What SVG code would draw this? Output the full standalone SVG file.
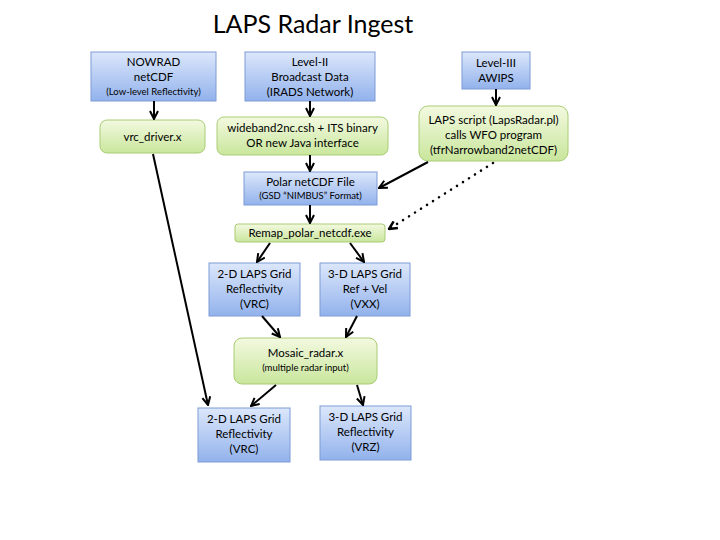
<svg xmlns="http://www.w3.org/2000/svg" width="720" height="540" viewBox="0 0 720 540">
<defs>
<linearGradient id="gb" x1="0" y1="0" x2="0" y2="1">
<stop offset="0" stop-color="#dce7fb"/>
<stop offset="1" stop-color="#92b2ec"/>
</linearGradient>
<linearGradient id="gg" x1="0" y1="0" x2="0" y2="1">
<stop offset="0" stop-color="#f3f9e0"/>
<stop offset="1" stop-color="#c9e69c"/>
</linearGradient>
<marker id="ah" viewBox="0 0 10 10" refX="9" refY="5" markerWidth="5" markerHeight="5" orient="auto" markerUnits="strokeWidth">
<path d="M1,1 L9,5 L1,9" fill="none" stroke="#000" stroke-width="2"/>
</marker>
<marker id="ahd" viewBox="0 0 10 10" refX="9" refY="5" markerWidth="4" markerHeight="4" orient="auto" markerUnits="strokeWidth">
<path d="M1,1 L9,5 L1,9" fill="none" stroke="#000" stroke-width="2.5"/>
</marker>
</defs>
<style>
.b{fill:url(#gb);stroke:#7d9bd6;stroke-width:1}
.g{fill:url(#gg);stroke:#a9cc74;stroke-width:1}
text{font-family:Lato,"Liberation Sans",sans-serif;fill:#000;text-anchor:middle}
.t{font-size:11.5px}
.s{font-size:9.5px}
.c{stroke:#000;stroke-width:2;fill:none;marker-end:url(#ah)}
</style>
<rect width="720" height="540" fill="#fff"/>
<text x="313" y="33" style="font-size:25px">LAPS Radar Ingest</text>

<g id="nowrad">
<rect class="b" x="91" y="52" width="125" height="49"/>
<text class="t" x="153.5" y="66">NOWRAD</text>
<text class="t" x="153.5" y="81">netCDF</text>
<text class="s" x="153.5" y="95">(Low-level Reflectivity)</text>
</g>
<g id="level2">
<rect class="b" x="245" y="52" width="130" height="49"/>
<text class="t" x="310" y="66">Level-II</text>
<text class="t" x="310" y="81">Broadcast Data</text>
<text class="t" x="310" y="96">(IRADS Network)</text>
</g>
<g id="level3">
<rect class="b" x="462" y="52" width="68" height="37"/>
<text class="t" x="496" y="67">Level-III</text>
<text class="t" x="496" y="82">AWIPS</text>
</g>
<g id="vrcdriver">
<rect class="g" x="100" y="120" width="105" height="33" rx="7"/>
<text class="t" x="152.5" y="141">vrc_driver.x</text>
</g>
<g id="wideband">
<rect class="g" x="217" y="117" width="171" height="38" rx="7"/>
<text class="t" x="302.5" y="132">wideband2nc.csh + ITS binary</text>
<text class="t" x="302.5" y="147">OR new Java interface</text>
</g>
<g id="lapsscript">
<rect class="g" x="419" y="106" width="149" height="55" rx="9"/>
<text class="t" x="493.5" y="124">LAPS script (LapsRadar.pl)</text>
<text class="t" x="493.5" y="139">calls WFO program</text>
<text class="t" x="493.5" y="154">(tfrNarrowband2netCDF)</text>
</g>
<g id="polar">
<rect class="b" x="244" y="172" width="133" height="33"/>
<text class="t" x="310.5" y="186">Polar netCDF File</text>
<text class="s" x="310.5" y="199">(GSD “NIMBUS” Format)</text>
</g>
<g id="remap">
<rect class="g" x="235" y="224" width="150" height="18" rx="3"/>
<text class="t" x="310" y="237">Remap_polar_netcdf.exe</text>
</g>
<g id="vrc2d">
<rect class="b" x="209" y="263" width="91" height="53"/>
<text class="t" x="254.5" y="278">2-D LAPS Grid</text>
<text class="t" x="254.5" y="293">Reflectivity</text>
<text class="t" x="254.5" y="308">(VRC)</text>
</g>
<g id="vxx3d">
<rect class="b" x="320" y="263" width="90" height="53"/>
<text class="t" x="365" y="278">3-D LAPS Grid</text>
<text class="t" x="365" y="293">Ref + Vel</text>
<text class="t" x="365" y="308">(VXX)</text>
</g>
<g id="mosaic">
<rect class="g" x="234" y="338" width="143" height="46" rx="8"/>
<text class="t" x="305.5" y="357">Mosaic_radar.x</text>
<text class="s" x="305.5" y="371">(multiple radar input)</text>
</g>
<g id="vrcout">
<rect class="b" x="198" y="408" width="92" height="54"/>
<text class="t" x="244" y="423">2-D LAPS Grid</text>
<text class="t" x="244" y="438">Reflectivity</text>
<text class="t" x="244" y="453">(VRC)</text>
</g>
<g id="vrzout">
<rect class="b" x="320" y="406" width="91" height="54"/>
<text class="t" x="365.5" y="421">3-D LAPS Grid</text>
<text class="t" x="365.5" y="436">Reflectivity</text>
<text class="t" x="365.5" y="451">(VRZ)</text>
</g>

<g id="connectors">
<line class="c" x1="154" y1="101" x2="154" y2="119"/>
<line class="c" x1="310" y1="101" x2="310" y2="116"/>
<line class="c" x1="496" y1="89" x2="496" y2="105"/>
<line class="c" x1="310" y1="155" x2="310" y2="171"/>
<line class="c" x1="428" y1="162" x2="379" y2="188"/>
<line x1="493" y1="163" x2="389" y2="229" stroke="#000" stroke-width="2.5" stroke-dasharray="0.1 7" stroke-linecap="round" fill="none" marker-end="url(#ahd)"/>
<line class="c" x1="310" y1="205" x2="310" y2="223"/>
<line class="c" x1="270" y1="243" x2="257" y2="262"/>
<line class="c" x1="350" y1="243" x2="364" y2="262"/>
<line class="c" x1="262" y1="316" x2="280" y2="337"/>
<line class="c" x1="357" y1="316" x2="346" y2="337"/>
<line class="c" x1="276" y1="385" x2="251" y2="406"/>
<line class="c" x1="357" y1="385" x2="363" y2="405"/>
<line class="c" x1="153" y1="154" x2="208" y2="405"/>
</g>
</svg>
